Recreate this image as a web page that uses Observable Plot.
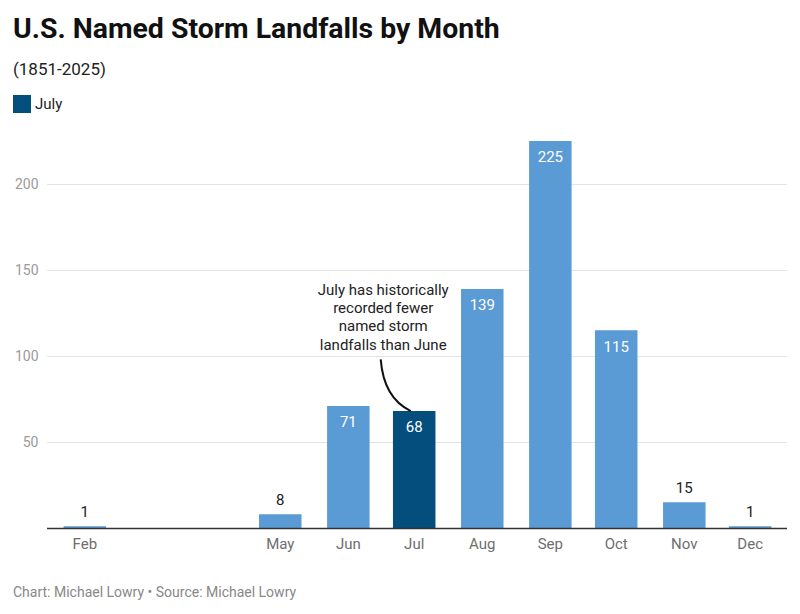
<!DOCTYPE html>
<html>
<head>
<meta charset="utf-8">
<script src="https://cdn.jsdelivr.net/npm/d3@7"></script>
<script src="https://cdn.jsdelivr.net/npm/@observablehq/plot@0.6"></script>
<style>
  html, body { margin: 0; padding: 0; background: #fff; }
  body { width: 800px; height: 614px; position: relative; font-family: Roboto, "Noto Sans", sans-serif; overflow: hidden; }
  #title { position: absolute; left: 13px; top: 12px; font-size: 28.4px; font-weight: 700; color: #111; white-space: nowrap; }
  #subtitle { position: absolute; left: 13px; top: 59px; font-size: 17px; color: #222; }
  #legend { position: absolute; left: 13px; top: 95px; display: flex; align-items: center; font-size: 15px; color: #222; }
  #legend .sw { width: 18px; height: 18px; background: #034e7d; margin-right: 4px; }
  #chart { position: absolute; left: 0; top: 125px; }
  #footer { position: absolute; left: 13px; top: 584px; font-size: 14px; color: #888; }
</style>
</head>
<body>
<div id="title">U.S. Named Storm Landfalls by Month</div>
<div id="subtitle">(1851-2025)</div>
<div id="legend"><div class="sw"></div><span>July</span></div>
<div id="chart"></div>
<div id="footer">Chart: Michael Lowry • Source: Michael Lowry</div>
<script>
// Months on a time axis (positions proportional to calendar days)
const monthDates = ["2025-02-01","2025-05-01","2025-06-01","2025-07-01","2025-08-01","2025-09-01","2025-10-01","2025-11-01","2025-12-01"];
const landfalls = [1, 8, 71, 68, 139, 225, 115, 15, 1];
const highlightDate = "2025-07-01";
const xDomain = ["2025-01-15", "2025-12-18"];
const yTicks = [50, 100, 150, 200];
const annotationText = "July has historically\nrecorded fewer\nnamed storm\nlandfalls than June";

const parse = d3.utcParse("%Y-%m-%d");
const data = monthDates.map((d, i) => ({date: parse(d), value: landfalls[i], hi: d === highlightDate}));
const hiDate = parse(highlightDate);
const lightBlue = "#5b9bd5";
const darkBlue = "#034e7d";
const BAR_W = 42.5;

const annotationCurve = (index, scales, values, dims, context) => {
  const x = scales.x, y = scales.y;
  const c = x(hiDate);
  const path = d3.create("svg:path")
    .attr("d", `M${c - 33},${y(98)} Q${c - 30},${y(75.5)} ${c - 3},${y(68)}`)
    .attr("fill", "none")
    .attr("stroke", "#111")
    .attr("stroke-width", 2);
  return path.node();
};

const chart = Plot.plot({
  width: 800,
  height: 440,
  marginLeft: 47,
  marginRight: 13,
  marginTop: 16,
  marginBottom: 37,
  style: {fontFamily: "Roboto, sans-serif", fontSize: "15px", background: "transparent"},
  x: {type: "utc", domain: xDomain.map(parse), label: null},
  y: {domain: [0, 225], label: null},
  marks: [
    Plot.ruleY(yTicks, {stroke: "#e3e3e3", strokeWidth: 1}),
    Plot.axisY({ticks: yTicks, tickSize: 0, tickPadding: 9, fill: "#9a9a9a", fontSize: 14, label: null}),
    Plot.axisX({ticks: data.map(d => d.date), tickFormat: d3.utcFormat("%b"), tickSize: 0, tickPadding: 10, fill: "#6e6e6e", fontSize: 15, label: null}),
    Plot.ruleX(data, {x: "date", y1: 0, y2: "value", stroke: d => d.hi ? darkBlue : lightBlue, strokeWidth: BAR_W, strokeLinecap: "butt"}),
    Plot.ruleY([0], {stroke: "#333", strokeWidth: 1.5}),
    Plot.text(data.filter(d => d.value > 30), {x: "date", y: "value", text: d => String(d.value), dy: 16, fill: "#fff", fontSize: 15}),
    Plot.text(data.filter(d => d.value <= 30), {x: "date", y: "value", text: d => String(d.value), dy: -15, fill: "#222", fontSize: 15}),
    Plot.text([annotationText], {x: () => hiDate, y: () => 104, text: d => d, dx: -31, lineAnchor: "bottom", lineHeight: 1.22, fill: "#222", fontSize: 15, textAnchor: "middle"}),
    annotationCurve
  ]
});
document.getElementById("chart").appendChild(chart);
</script>
</body>
</html>
